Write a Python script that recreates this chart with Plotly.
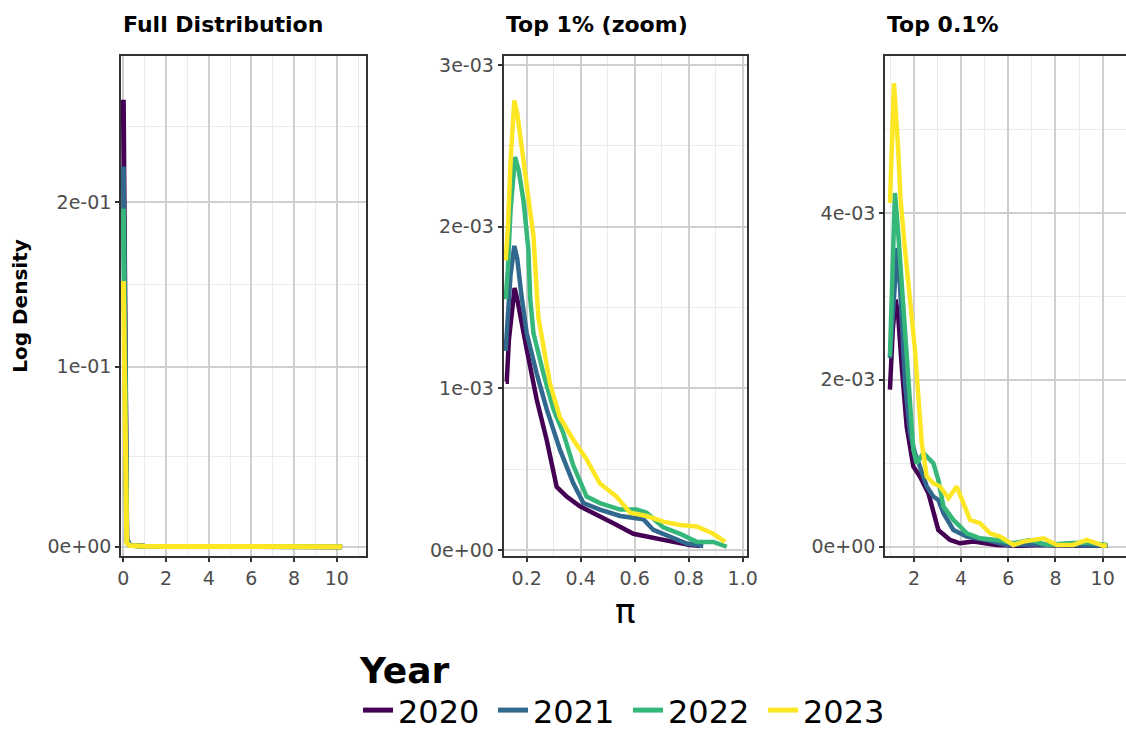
import numpy as np
import plotly.graph_objects as go

years = ["2020", "2021", "2022", "2023"]
colors = ["#440154", "#31688E", "#35B779", "#FDE725"]

# ---- Full distribution (density, all values of pi) ----
full_x = [0.0, 0.1, 0.16, 0.3, 0.5, 1.0, 2.0, 3.0, 4.0, 6.0, 8.0, 10.25]
full_y_2020 = [0.267, 0.036, 0.004, 0.0008, 0.0005, 0.0003, 0.00015, 0.0001, 0.00005, 0.00003, 0.00002, 0.00001]
full_y_2021 = [0.223, 0.035, 0.004, 0.0008, 0.0005, 0.0003, 0.00015, 0.0001, 0.00005, 0.00003, 0.00002, 0.00001]
full_y_2022 = [0.196, 0.034, 0.003, 0.0007, 0.0005, 0.0003, 0.00015, 0.0001, 0.00005, 0.00003, 0.00002, 0.00001]
full_y_2023 = [0.151, 0.030, 0.002, 0.0006, 0.0004, 0.0003, 0.00015, 0.0001, 0.00006, 0.00003, 0.00002, 0.0]

# ---- Top 1% (values in units of 1e-3) ----
top1_x_2020 = [0.122, 0.126, 0.134, 0.145, 0.155, 0.165, 0.18, 0.2, 0.237, 0.274, 0.311, 0.348, 0.397, 0.471, 0.521, 0.595, 0.669, 0.743, 0.805, 0.842]
top1_y_2020 = [1.04, 1.04, 1.30, 1.50, 1.62, 1.55, 1.40, 1.24, 0.93, 0.68, 0.39, 0.33, 0.27, 0.21, 0.165, 0.10, 0.072, 0.05, 0.03, 0.025]
top1_x_2021 = [0.122, 0.13, 0.14, 0.154, 0.165, 0.18, 0.2, 0.237, 0.274, 0.323, 0.373, 0.41, 0.471, 0.546, 0.61, 0.632, 0.669, 0.731, 0.793, 0.854]
top1_y_2021 = [1.23, 1.42, 1.70, 1.88, 1.80, 1.58, 1.34, 1.09, 0.87, 0.62, 0.41, 0.29, 0.25, 0.21, 0.20, 0.19, 0.124, 0.082, 0.04, 0.025]
top1_x_2022 = [0.122, 0.13, 0.14, 0.157, 0.17, 0.188, 0.206, 0.213, 0.225, 0.262, 0.299, 0.336, 0.373, 0.422, 0.471, 0.546, 0.607, 0.644, 0.706, 0.768, 0.83, 0.891, 0.941]
top1_y_2022 = [1.55, 1.73, 2.10, 2.43, 2.35, 2.16, 1.86, 1.55, 1.34, 1.09, 0.87, 0.72, 0.52, 0.33, 0.29, 0.25, 0.25, 0.23, 0.14, 0.10, 0.05, 0.05, 0.02]
top1_x_2023 = [0.122, 0.13, 0.14, 0.154, 0.165, 0.175, 0.2, 0.225, 0.243, 0.262, 0.286, 0.323, 0.373, 0.422, 0.471, 0.533, 0.583, 0.644, 0.706, 0.768, 0.83, 0.891, 0.935]
top1_y_2023 = [1.79, 1.98, 2.40, 2.78, 2.70, 2.58, 2.27, 1.94, 1.44, 1.24, 1.03, 0.82, 0.68, 0.56, 0.41, 0.33, 0.23, 0.21, 0.175, 0.155, 0.145, 0.10, 0.05]

# ---- Top 0.1% (values in units of 1e-3) ----
top01_x_2020 = [0.98, 1.1, 1.22, 1.33, 1.48, 1.69, 1.97, 2.25, 2.61, 2.82, 3.03, 3.53, 3.95, 4.52, 5.51, 6.5, 7.5, 8.5, 9.5, 10.2]
top01_y_2020 = [1.88, 2.60, 2.96, 2.76, 2.16, 1.44, 0.96, 0.84, 0.64, 0.40, 0.20, 0.08, 0.04, 0.06, 0.02, 0.01, 0.02, 0.01, 0.01, 0.01]
top01_x_2021 = [0.98, 1.15, 1.29, 1.4, 1.48, 1.62, 1.83, 2.04, 2.25, 2.54, 2.82, 3.03, 3.25, 3.67, 4.24, 5.09, 5.94, 7.0, 8.0, 9.0, 10.2]
top01_y_2021 = [2.26, 3.10, 3.58, 3.16, 2.64, 1.96, 1.36, 1.12, 0.96, 0.72, 0.60, 0.56, 0.40, 0.20, 0.12, 0.08, 0.02, 0.03, 0.02, 0.02, 0.01]
top01_x_2022 = [0.98, 1.08, 1.19, 1.33, 1.48, 1.55, 1.69, 1.83, 1.97, 2.11, 2.4, 2.82, 3.03, 3.25, 3.67, 4.24, 4.8, 5.51, 6.22, 6.93, 7.63, 8.5, 9.3, 10.2]
top01_y_2022 = [2.28, 3.40, 4.24, 3.76, 3.16, 2.76, 2.16, 1.64, 1.16, 1.00, 1.12, 1.00, 0.80, 0.48, 0.32, 0.16, 0.10, 0.08, 0.04, 0.08, 0.02, 0.04, 0.05, 0.02]
top01_x_2023 = [0.98, 1.06, 1.15, 1.33, 1.43, 1.62, 1.83, 1.9, 2.04, 2.18, 2.33, 2.54, 2.82, 3.1, 3.46, 3.81, 4.03, 4.38, 4.8, 5.23, 5.65, 6.22, 6.64, 7.49, 8.06, 8.76, 9.33, 10.04, 10.18]
top01_y_2023 = [4.12, 5.00, 5.56, 4.76, 4.16, 3.56, 2.84, 2.76, 2.36, 1.76, 1.24, 0.84, 0.76, 0.72, 0.58, 0.72, 0.56, 0.32, 0.28, 0.16, 0.12, 0.02, 0.06, 0.10, 0.02, 0.02, 0.08, 0.01, 0.02]

MILLI = 1e-3

full_ys = [full_y_2020, full_y_2021, full_y_2022, full_y_2023]
top1 = [(top1_x_2020, top1_y_2020), (top1_x_2021, top1_y_2021),
        (top1_x_2022, top1_y_2022), (top1_x_2023, top1_y_2023)]
top01 = [(top01_x_2020, top01_y_2020), (top01_x_2021, top01_y_2021),
         (top01_x_2022, top01_y_2022), (top01_x_2023, top01_y_2023)]

FONT = "DejaVu Sans"
W, H = 1126, 731


def tr(v):
    """log1p transform used for the density axis."""
    return np.log1p(np.asarray(v, dtype=float))


fig = go.Figure()

for i, yr in enumerate(years):
    fig.add_trace(go.Scatter(
        x=full_x, y=tr(full_ys[i]), mode="lines", name=yr, legendgroup=yr,
        line=dict(color=colors[i], width=5), xaxis="x", yaxis="y",
        showlegend=True))
for i, yr in enumerate(years):
    xs, ys = top1[i]
    fig.add_trace(go.Scatter(
        x=xs, y=tr(np.array(ys) * MILLI), mode="lines", name=yr, legendgroup=yr,
        line=dict(color=colors[i], width=4.5), xaxis="x2", yaxis="y2",
        showlegend=False))
for i, yr in enumerate(years):
    xs, ys = top01[i]
    fig.add_trace(go.Scatter(
        x=xs, y=tr(np.array(ys) * MILLI), mode="lines", name=yr, legendgroup=yr,
        line=dict(color=colors[i], width=4.5), xaxis="x3", yaxis="y3",
        showlegend=False))

# panel boxes in pixels
y_dom = [(H - 556) / H, (H - 56) / H]
x_doms = [[121 / W, 366 / W], [503.5 / W, 747 / W], [885 / W, 1.0]]

MAJOR = "#cfcfcf"
MINOR = "#ebebeb"
LINE = "#333333"
TICKFONT = dict(family=FONT, size=19, color="#4d4d4d")


def xaxis(dom, rng, major, labels, minor, mirror=True):
    return dict(domain=dom, range=rng, tickmode="array", tickvals=major,
                ticktext=labels,
                showgrid=True, gridcolor=MAJOR, gridwidth=2,
                minor=dict(tickmode="array", tickvals=minor, showgrid=True,
                           gridcolor=MINOR, gridwidth=1, ticks=""),
                showline=True, linecolor=LINE, linewidth=1.6, mirror=mirror,
                ticks="outside", ticklen=4, tickwidth=1.6, tickcolor=LINE,
                tickfont=TICKFONT, zeroline=False)


def yaxis(dom, rng, major, labels, minor, mirror=True, title=None):
    d = dict(domain=dom, range=rng, tickmode="array", tickvals=tr(major),
             ticktext=labels, showgrid=True, gridcolor=MAJOR, gridwidth=2,
             minor=dict(tickmode="array", tickvals=minor, showgrid=True,
                        gridcolor=MINOR, gridwidth=1, ticks=""),
             showline=True, linecolor=LINE, linewidth=1.6, mirror=mirror,
             ticks="outside", ticklen=4, tickwidth=1.6, tickcolor=LINE,
             tickfont=TICKFONT, zeroline=False)
    if title:
        d["title"] = title
    return d


# minor y grid lines sit half-way between major breaks on the transformed scale
def mids(vals):
    t = tr(vals)
    return list((t[:-1] + t[1:]) / 2)


# Panel 1
fx1 = xaxis(x_doms[0], [-0.11, 11.37], [0, 2, 4, 6, 8, 10],
            ["0", "2", "4", "6", "8", "10"], [1, 3, 5, 7, 9, 11])
fx1["anchor"] = "y"
fy1 = yaxis(y_dom, [-0.00492, 0.2598], [0, 0.1, 0.2], ["0e+00", "1e-01", "2e-01"],
            mids([0, 0.1, 0.2, 0.3]),
            title=dict(text="<b>Log Density</b>", font=dict(family=FONT, size=20, color="black"),
                       standoff=15))
fy1["anchor"] = "x"

# Panel 2
fx2 = xaxis(x_doms[1], [0.114, 1.016], [0.2, 0.4, 0.6, 0.8, 1.0],
            ["0.2", "0.4", "0.6", "0.8", "1.0"], [0.1, 0.3, 0.5, 0.7, 0.9])
fx2["anchor"] = "y2"
fy2 = yaxis(y_dom, list(tr([-0.0371e-3, 3.0557e-3])), [0, 1e-3, 2e-3, 3e-3],
            ["0e+00", "1e-03", "2e-03", "3e-03"], list(tr([0.5e-3, 1.5e-3, 2.5e-3])))
fy2["anchor"] = "x2"

# Panel 3 (right edge runs to the page border, no right frame line)
fx3 = xaxis(x_doms[2], [0.77, 10.99], [2, 4, 6, 8, 10],
            ["2", "4", "6", "8", "10"], [1, 3, 5, 7, 9])
fx3["anchor"] = "y3"
fy3 = yaxis(y_dom, list(tr([-0.112e-3, 5.888e-3])), [0, 2e-3, 4e-3],
            ["0e+00", "2e-03", "4e-03"], list(tr([1e-3, 3e-3, 5e-3])), mirror=False)
fy3["anchor"] = "x3"

titles = ["Full Distribution", "Top 1% (zoom)", "Top 0.1%"]
annotations = []
for dom, t in zip(x_doms, titles):
    annotations.append(dict(
        text=f"<b>{t}</b>", x=dom[0], xref="paper", xanchor="left",
        y=(H - 24) / H, yref="paper", yanchor="middle", showarrow=False,
        font=dict(family=FONT, size=22, color="black")))

# shared x-axis label, centred under the middle panel
annotations.append(dict(
    text="π", x=sum(x_doms[1]) / 2, xref="paper", xanchor="center",
    y=(H - 589) / H, yref="paper", yanchor="top", showarrow=False,
    font=dict(family=FONT, size=34, color="black")))

fig.update_layout(
    width=W, height=H,
    margin=dict(l=0, r=0, t=0, b=0, autoexpand=False),
    paper_bgcolor="white", plot_bgcolor="white",
    xaxis=fx1, yaxis=fy1, xaxis2=fx2, yaxis2=fy2, xaxis3=fx3, yaxis3=fy3,
    annotations=annotations,
    showlegend=True,
    legend=dict(
        orientation="h", x=358 / W, xanchor="left", y=(H - 636) / H, yanchor="top",
        title=dict(text="<b>Year</b>", side="top",
                   font=dict(family=FONT, size=36, color="black")),
        font=dict(family=FONT, size=32, color="black"),
        entrywidth=90, entrywidthmode="pixels",
        bgcolor="rgba(0,0,0,0)", borderwidth=0, tracegroupgap=0,
    ),
)

fig.write_html("out.html")
